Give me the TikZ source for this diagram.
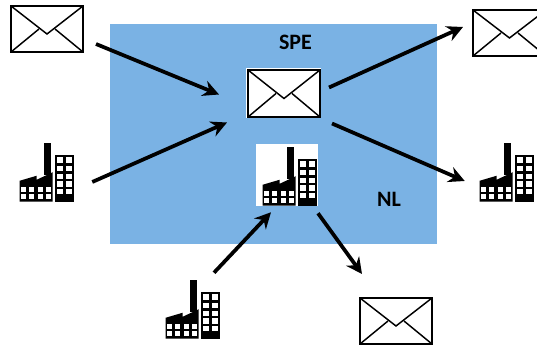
\documentclass[tikz,border=0pt]{standalone}
\usepackage{fontspec}
\setmainfont{Carlito}
\usepackage{tikz}
\usetikzlibrary{calc, arrows.meta}
\definecolor{landblue}{HTML}{7AB2E4}
\tikzset{
  mail/.style={draw, line width=1.5pt, fill=white, inner sep=0pt, path picture={
    \draw[line width=1.1pt] (path picture bounding box.north west)--($(path picture bounding box.center)+(0,5)$)--(path picture bounding box.north east);
    \draw[line width=1.1pt] (path picture bounding box.south west)--($(path picture bounding box.west)+(28,0)$);
    \draw[line width=1.1pt] (path picture bounding box.south east)--($(path picture bounding box.east)+(-28,0)$);
  }},
  plant/.style={inner sep=0pt, minimum width=40.5pt, minimum height=45pt},
  flow/.style={-{Stealth[length=12pt, width=12pt, inset=4pt]}, line width=2.8pt},
  tag/.style={font=\bfseries\fontsize{16.5pt}{18pt}\selectfont},
  factory/.pic={
    \fill[black] (24.3,0) rectangle (31,32);
    \fill[black] (0,59)--(0,38)--(17,33)--(17,37)--(33,29.5)--(33,59)--cycle;
    \fill[black] (35.5,12) rectangle (54,59);
    \foreach \x in {37.6,46} \foreach \y in {14.5,22.9,30.9,38.5,45.9}
      \fill[white] (\x,\y) rectangle +(5.8,5.5);
    \foreach \x in {1.3,9.6,18,26.3} \foreach \y in {44,51.2}
      \fill[white] (\x,\y) rectangle +(5.1,5.1);
  }
}
\begin{document}
\begin{tikzpicture}[x=0.75pt, y=-0.75pt]
\useasboundingbox (0,0) rectangle (537,345);
\fill[landblue] (110,24) rectangle (437,244);
\node[tag] (spe) at (295.5,42) {SPE};
\node[tag] (nl) at (389,199) {NL};
% envelopes
\node[mail, minimum width=54pt, minimum height=34.5pt] (mailin) at (47,29) {};
\node[mail, minimum width=54.75pt, minimum height=34.5pt] (mailout) at (509.5,33) {};
\node[mail, minimum width=54pt, minimum height=34.5pt] (maillow) at (396,321) {};
\node[fill=white, inner sep=0pt, minimum width=56.25pt, minimum height=37.5pt] (mailbg) at (283.5,93) {};
\node[mail, minimum width=54pt, minimum height=35.25pt] (mailspe) at (284,93.5) {};
% factories
\node[plant] (plantin) at (47,173) {};
\node[plant] (plantout) at (507,173) {};
\node[plant] (plantlow) at (193,310) {};
\node[fill=white, inner sep=0pt, minimum width=46.5pt, minimum height=46.5pt] (plantnl) at (287,175) {};
\pic at (plantin.north west) {factory};
\pic at (plantout.north west) {factory};
\pic at (plantlow.north west) {factory};
\pic at ([shift={(7,3)}]plantnl.north west) {factory};
% flows
\draw[flow] ([shift={(12,15)}]mailin.east)--([shift={(-28,1)}]mailspe.west);
\draw[flow] ([shift={(18,9)}]plantin.east)--([shift={(-20,29)}]mailspe.west);
\draw[flow] ([shift={(8,-6)}]mailspe.east)--([shift={(-9,-6)}]mailout.west);
\draw[flow] ([shift={(11,30)}]mailspe.east)--([shift={(-15,8)}]plantout.west);
\draw[flow] ([shift={(21,-7)}]plantlow.north)--([shift={(-16,6)}]plantnl.south);
\draw[flow] ([shift={(31,7)}]plantnl.south)--([shift={(-34,-23)}]maillow.north);
\end{tikzpicture}
\end{document}
